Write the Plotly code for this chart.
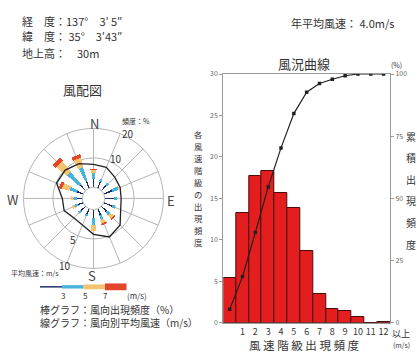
import plotly.graph_objects as go

W_PX, H_PX = 417, 354

# ---------------- data: wind rose ----------------
directions = ["N", "NNE", "NE", "ENE", "E", "ESE", "SE", "SSE",
              "S", "SSW", "SW", "WSW", "W", "WNW", "NW", "NNW"]
# frequency (%) by wind-speed class per direction
freq_lt3 = [2.8, 2.4, 2.4, 3.0, 3.1, 3.0, 2.3, 2.3, 2.8, 1.9, 2.0, 1.8, 1.9, 2.2, 2.6, 2.6]
freq_3to5 = [2.0, 0.8, 0.8, 2.2, 1.0, 1.1, 1.6, 1.6, 2.6, 0.8, 1.2, 1.2, 1.1, 2.6, 5.5, 4.8]
freq_5to7 = [1.0, 0.0, 0.0, 0.2, 0.0, 0.1, 1.3, 1.3, 1.8, 0.1, 0.2, 0.9, 0.9, 2.6, 4.6, 3.3]
freq_ge7 = [0.3, 0.0, 0.0, 0.0, 0.0, 0.0, 0.6, 0.6, 0.0, 0.0, 0.0, 0.0, 0.0, 1.1, 1.4, 1.2]
# mean wind speed (m/s) per direction
mean_speed = [3.9, 3.8, 3.2, 3.0, 2.8, 3.1, 4.5, 5.2, 4.2, 3.0, 2.8, 3.5, 3.4, 4.9, 4.9, 4.5]

# ---------------- data: wind speed distribution ----------------
speed_classes = list(range(13))
speed_labels = ["", "1", "2", "3", "4", "5", "6", "7", "8", "9", "10", "11", "12"]
class_freq = [5.4, 13.2, 17.7, 18.3, 15.7, 13.8, 8.6, 3.5, 1.7, 1.4, 0.7, 0.0, 0.1]
cumulative = []
_s = 0.0
for v in class_freq:
    _s += v
    cumulative.append(min(_s, 100.0))

FONT = "Noto Sans CJK JP"
TXT = "#333333"

angles = [i * 22.5 for i in range(16)]

fig = go.Figure()

seg_colors = ["#1b2a6b", "#45b4de", "#f6c36f", "#e5462a"]
seg_widths = [5, 8, 10, 12]
seg_names = ["<3", "3-5", "5-7", ">=7"]
for vals, col, wd, nm in zip([freq_lt3, freq_3to5, freq_5to7, freq_ge7],
                             seg_colors, seg_widths, seg_names):
    fig.add_trace(go.Barpolar(r=vals, theta=angles, width=[wd] * 16,
                              marker=dict(color=col, line=dict(width=0)),
                              name=nm, showlegend=False))

fig.add_trace(go.Scatterpolar(r=[v * 2 for v in mean_speed] + [mean_speed[0] * 2],
                              theta=angles + [angles[0]], mode="lines",
                              line=dict(color="#222222", width=1.3),
                              showlegend=False))

# right chart
fig.add_trace(go.Bar(x=speed_classes, y=class_freq,
                     marker=dict(color="#e41e1e", line=dict(color="#4a0a0a", width=1)),
                     width=1.0, xaxis="x", yaxis="y", showlegend=False))
fig.add_trace(go.Scatter(x=speed_classes, y=cumulative, mode="lines+markers",
                         line=dict(color="#222222", width=1.2),
                         marker=dict(symbol="square", size=3.5, color="#222222"),
                         xaxis="x", yaxis="y2", showlegend=False))

cx, cy, R = 93.5, 198.0, 72.0

fig.update_layout(
    width=W_PX, height=H_PX,
    margin=dict(l=0, r=0, t=0, b=0),
    paper_bgcolor="white", plot_bgcolor="white",
    font=dict(family=FONT, color=TXT),
    polar=dict(
        domain=dict(x=[(cx - R) / W_PX, (cx + R) / W_PX],
                    y=[(H_PX - cy - R) / H_PX, (H_PX - cy + R) / H_PX]),
        hole=0.16,
        barmode="stack",
        bgcolor="white",
        radialaxis=dict(range=[0, 20], tickvals=[10], showticklabels=False,
                        showline=False, ticks="", gridcolor="#b5b5b5", gridwidth=1),
        angularaxis=dict(direction="clockwise", rotation=90,
                         tickvals=angles, showticklabels=False, ticks="",
                         showline=True, linecolor="#b5b5b5", linewidth=1,
                         gridcolor="#b5b5b5", gridwidth=1),
    ),
    xaxis=dict(domain=[223.3 / W_PX, 390.0 / W_PX], range=[-0.5, 12.5],
               tickvals=speed_classes, ticktext=speed_labels,
               tickfont=dict(size=9, color=TXT), ticks="",
               showline=True, mirror=True, linecolor="#9a9a9a", linewidth=1,
               showgrid=False, zeroline=False, fixedrange=True),
    yaxis=dict(domain=[(H_PX - 326.0) / H_PX, (H_PX - 70.0) / H_PX], range=[0, 30],
               tickvals=[0, 5, 10, 15, 20, 25, 30], ticks="outside", ticklen=3,
               tickcolor="#9a9a9a", tickfont=dict(size=7, color="#666666"),
               showline=True, linecolor="#9a9a9a", showgrid=False, zeroline=False),
    yaxis2=dict(overlaying="y", side="right", range=[0, 100],
                tickvals=[0, 25, 50, 75, 100], ticks="outside", ticklen=3,
                tickcolor="#9a9a9a", tickfont=dict(size=7, color="#666666"),
                showline=True, linecolor="#9a9a9a", showgrid=False, zeroline=False),
    bargap=0,
)


def ann(text, x, y, size=11, color=TXT, xanchor="center", yanchor="middle", align="center"):
    fig.add_annotation(text=text, x=x / W_PX, y=1 - y / H_PX, xref="paper", yref="paper",
                       showarrow=False, font=dict(size=size, color=color, family=FONT),
                       xanchor=xanchor, yanchor=yanchor, align=align, borderpad=0)


# header texts
ann("経　度：137°　3′ 5″", 21, 15, size=11, xanchor="left")
ann("緯　度： 35°　3′43″", 21, 31, size=11, xanchor="left")
ann("地上高：　30m", 21, 48, size=11, xanchor="left")
ann("風配図", 82, 86, size=13)
ann("年平均風速： 4.0m/s", 290, 18, size=11, xanchor="left")
ann("風況曲線", 304, 59, size=13)
ann("(%)", 396, 61, size=7)

# rose labels
ann("N", 94, 121, size=13, color="#444")
ann("E", 171, 200, size=13, color="#444")
ann("S", 92, 277, size=13, color="#444")
ann("W", 13, 199, size=13, color="#444")
ann("頻度：%", 136, 118, size=7)
ann("20", 128, 131, size=10)
ann("10", 116, 157, size=10)
ann("5", 73, 240, size=10)
ann("10", 65, 267, size=10)
ann("平均風速：m/s", 10, 275, size=7, xanchor="left")

# speed legend
legend_x = [40, 62, 83.5, 105, 126.5]
legend_h = [1.5, 3.5, 5, 7]
for i, col in enumerate(seg_colors):
    fig.add_shape(type="rect", xref="paper", yref="paper",
                  x0=legend_x[i] / W_PX, x1=legend_x[i + 1] / W_PX,
                  y0=1 - (289 + legend_h[i] / 2) / H_PX, y1=1 - (289 - legend_h[i] / 2) / H_PX,
                  fillcolor=col, line=dict(width=0))
for lab, x in zip(["3", "5", "7"], legend_x[1:4]):
    ann(lab, x + 1, 298, size=8)
ann("(m/s)", 137, 298, size=8)
ann("棒グラフ：風向出現頻度（%）<br>線グラフ：風向別平均風速（m/s）", 39, 319,
    size=10, xanchor="left", align="left")

# right chart titles
left_title = "各風速階級の出現頻度"
for i, ch in enumerate(left_title):
    ann(ch, 198, 132 + i * 12.3, size=8.4)
right_title = "累積出現頻度"
for i, ch in enumerate(right_title):
    ann(ch, 411, 134 + i * 22.2, size=10)
ann("風 速 階 級 出 現 頻 度", 304, 348.5, size=11.5)
ann("以上", 401, 337.5, size=9)
ann("(m/s)", 401, 348.5, size=7)

fig.write_html("out.html", config={"displayModeBar": False},
               post_script="document.body.style.margin='0';")
